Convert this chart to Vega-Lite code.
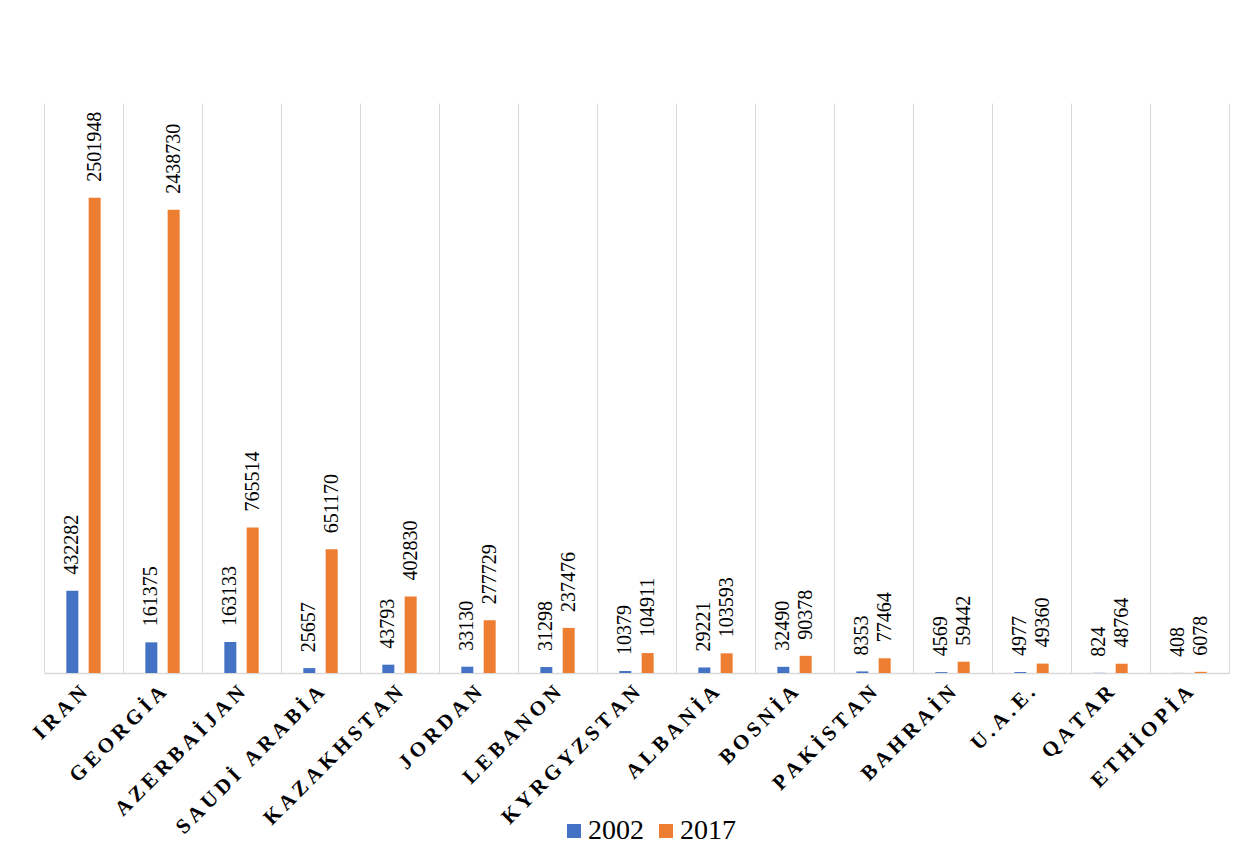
{
  "$schema": "https://vega.github.io/schema/vega-lite/v6.json",
  "width": 1185,
  "height": 570,
  "autosize": {"type": "none"},
  "padding": {"left": 44, "top": 103, "right": 26, "bottom": 179},
  "background": "white",
  "config": {
    "view": {"stroke": null},
    "font": "Times New Roman, Liberation Serif, serif"
  },
  "data": {
    "values": [
      {"country": "IRAN", "year": "2002", "value": 432282},
      {"country": "IRAN", "year": "2017", "value": 2501948},
      {"country": "GEORGİA", "year": "2002", "value": 161375},
      {"country": "GEORGİA", "year": "2017", "value": 2438730},
      {"country": "AZERBAİJAN", "year": "2002", "value": 163133},
      {"country": "AZERBAİJAN", "year": "2017", "value": 765514},
      {"country": "SAUDİ ARABİA", "year": "2002", "value": 25657},
      {"country": "SAUDİ ARABİA", "year": "2017", "value": 651170},
      {"country": "KAZAKHSTAN", "year": "2002", "value": 43793},
      {"country": "KAZAKHSTAN", "year": "2017", "value": 402830},
      {"country": "JORDAN", "year": "2002", "value": 33130},
      {"country": "JORDAN", "year": "2017", "value": 277729},
      {"country": "LEBANON", "year": "2002", "value": 31298},
      {"country": "LEBANON", "year": "2017", "value": 237476},
      {"country": "KYRGYZSTAN", "year": "2002", "value": 10379},
      {"country": "KYRGYZSTAN", "year": "2017", "value": 104911},
      {"country": "ALBANİA", "year": "2002", "value": 29221},
      {"country": "ALBANİA", "year": "2017", "value": 103593},
      {"country": "BOSNİA", "year": "2002", "value": 32490},
      {"country": "BOSNİA", "year": "2017", "value": 90378},
      {"country": "PAKİSTAN", "year": "2002", "value": 8353},
      {"country": "PAKİSTAN", "year": "2017", "value": 77464},
      {"country": "BAHRAİN", "year": "2002", "value": 4569},
      {"country": "BAHRAİN", "year": "2017", "value": 59442},
      {"country": "U.A.E.", "year": "2002", "value": 4977},
      {"country": "U.A.E.", "year": "2017", "value": 49360},
      {"country": "QATAR", "year": "2002", "value": 824},
      {"country": "QATAR", "year": "2017", "value": 48764},
      {"country": "ETHİOPİA", "year": "2002", "value": 408},
      {"country": "ETHİOPİA", "year": "2017", "value": 6078}
    ]
  },
  "encoding": {
    "x": {
      "field": "country",
      "type": "nominal",
      "sort": null,
      "scale": {"paddingInner": 0, "paddingOuter": 0},
      "axis": {
        "title": null,
        "labelAngle": -45,
        "labelFont": "Times New Roman, Liberation Serif, serif",
        "labelFontWeight": "bold",
        "labelFontSize": 21,
        "labelColor": "#000000",
        "labelBaseline": "middle",
        "labelAlign": "right",
        "labelPadding": 16,
        "labelLimit": 0,
        "labelOverlap": false,
        "labelExpr": "join(split(datum.label, ''), '\u2009')",
        "ticks": false,
        "grid": true,
        "gridColor": "#d9d9d9",
        "gridWidth": 1,
        "tickBand": "extent",
        "domainColor": "#d9d9d9",
        "domainWidth": 1.5
      }
    },
    "xOffset": {
      "field": "year",
      "type": "nominal",
      "scale": {"paddingInner": 0.463, "paddingOuter": 1.158}
    },
    "y": {
      "field": "value",
      "type": "quantitative",
      "scale": {"domain": [0, 3000000]},
      "axis": null
    }
  },
  "layer": [
    {
      "mark": {"type": "bar"},
      "encoding": {
        "color": {
          "field": "year",
          "type": "nominal",
          "scale": {"domain": ["2002", "2017"], "range": ["#4472C4", "#ED7D31"]},
          "legend": {
            "title": null,
            "orient": "none",
            "legendX": 516,
            "legendY": 714,
            "direction": "horizontal",
            "symbolType": "square",
            "symbolSize": 196,
            "symbolStrokeWidth": 0,
            "labelFont": "Times New Roman, Liberation Serif, serif",
            "labelFontSize": 28,
            "labelColor": "#000000",
            "labelOffset": 0,
            "columnPadding": 8
          }
        }
      }
    },
    {
      "mark": {
        "type": "text",
        "angle": 270,
        "align": "left",
        "baseline": "middle",
        "dx": 16,
        "fontSize": 20,
        "font": "Times New Roman, Liberation Serif, serif",
        "color": "#000000"
      },
      "encoding": {
        "text": {"field": "value", "type": "quantitative", "format": "d"}
      }
    }
  ]
}
